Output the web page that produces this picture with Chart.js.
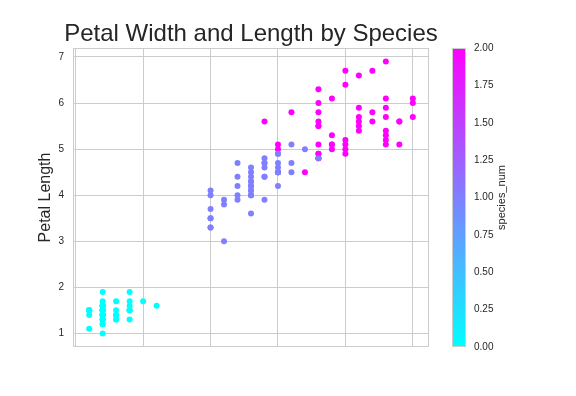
<!DOCTYPE html>
<html>
<head>
<meta charset="utf-8">
<script src="https://cdn.jsdelivr.net/npm/chart.js"></script>
<style>
  body { margin: 0; background: #fff; }
  #wrap { width: 576px; height: 396px; }
</style>
</head>
<body>
<div id="wrap"><canvas id="chart" width="576" height="396"></canvas></div>
<script>
// iris petal measurements, grouped by species
const setosaWidth = [0.2,0.2,0.2,0.2,0.2,0.4,0.3,0.2,0.2,0.1,0.2,0.2,0.1,0.1,0.2,0.4,0.4,0.3,0.3,0.3,0.2,0.4,0.2,0.5,0.2,0.2,0.4,0.2,0.2,0.2,0.2,0.4,0.1,0.2,0.1,0.2,0.2,0.1,0.2,0.2,0.3,0.3,0.2,0.6,0.4,0.3,0.2,0.2,0.2,0.2];
const setosaLength = [1.4,1.4,1.3,1.5,1.4,1.7,1.4,1.5,1.4,1.5,1.5,1.6,1.4,1.1,1.2,1.5,1.3,1.4,1.7,1.5,1.7,1.5,1.0,1.7,1.9,1.6,1.6,1.5,1.4,1.6,1.6,1.5,1.5,1.4,1.5,1.2,1.3,1.5,1.3,1.5,1.3,1.3,1.3,1.6,1.9,1.4,1.6,1.4,1.5,1.4];
const versicolorWidth = [1.4,1.5,1.5,1.3,1.5,1.3,1.6,1.0,1.3,1.4,1.0,1.5,1.0,1.4,1.3,1.4,1.5,1.0,1.5,1.1,1.8,1.3,1.5,1.2,1.3,1.4,1.4,1.7,1.5,1.0,1.1,1.0,1.2,1.6,1.5,1.6,1.5,1.3,1.3,1.3,1.2,1.4,1.2,1.0,1.3,1.2,1.3,1.3,1.1,1.3];
const versicolorLength = [4.7,4.5,4.9,4.0,4.6,4.5,4.7,3.3,4.6,3.9,3.5,4.2,4.0,4.7,3.6,4.4,4.5,4.1,4.5,3.9,4.8,4.0,4.9,4.7,4.3,4.4,4.8,5.0,4.5,3.5,3.8,3.7,3.9,5.1,4.5,4.5,4.7,4.4,4.1,4.0,4.4,4.6,4.0,3.3,4.2,4.2,4.2,4.3,3.0,4.1];
const virginicaWidth = [2.5,1.9,2.1,1.8,2.2,2.1,1.7,1.8,1.8,2.5,2.0,1.9,2.1,2.0,2.4,2.3,1.8,2.2,2.3,1.5,2.3,2.0,2.0,1.8,2.1,1.8,1.8,1.8,2.1,1.6,1.9,2.0,2.2,1.5,1.4,2.3,2.4,1.8,1.8,2.1,2.4,2.3,1.9,2.3,2.5,2.3,1.9,2.0,2.3,1.8];
const virginicaLength = [6.0,5.1,5.9,5.6,5.8,6.6,4.5,6.3,5.8,6.1,5.1,5.3,5.5,5.0,5.1,5.3,5.5,6.7,6.9,5.0,5.7,4.9,6.7,4.9,5.7,6.0,4.8,4.9,5.6,5.8,6.1,6.4,5.6,5.1,5.6,6.1,5.6,5.5,4.8,5.4,5.6,5.1,5.1,5.9,5.7,5.2,5.0,5.2,5.4,5.1];
const speciesNum = [0, 1, 2];

const xTicks = [0, 0.5, 1.0, 1.5, 2.0, 2.5];
const yTicks = [1, 2, 3, 4, 5, 6, 7];
const cbTicks = [0, 0.25, 0.5, 0.75, 1.0, 1.25, 1.5, 1.75, 2.0];

// matplotlib 'cool' colormap, value range 0..2
function cool(v) {
    const t = v / 2;
    return 'rgb(' + Math.round(255 * t) + ',' + Math.round(255 * (1 - t)) + ',255)';
}

function pairs(xs, ys) {
    return xs.map((x, i) => ({ x: x, y: ys[i] }));
}

const groups = [
    [setosaWidth, setosaLength],
    [versicolorWidth, versicolorLength],
    [virginicaWidth, virginicaLength]
];

const gridColor = '#cccccc';
const textColor = '#262626';
const fontFamily = '"Liberation Sans", Arial, sans-serif';

const colorbarPlugin = {
    id: 'colorbar',
    afterDraw(chart) {
        const ctx = chart.ctx;
        const a = chart.chartArea;
        const cb = chart.scales.cb;
        ctx.save();
        // title, centred over the plot
        ctx.fillStyle = textColor;
        ctx.font = '24px ' + fontFamily;
        ctx.textAlign = 'center';
        ctx.textBaseline = 'alphabetic';
        ctx.fillText('Petal Width and Length by Species', (a.left + a.right) / 2, 41);
        // frame
        ctx.strokeStyle = gridColor;
        ctx.lineWidth = 1;
        ctx.strokeRect(a.left + 0.5, a.top + 0.5, a.right - a.left - 1, a.bottom - a.top - 1);
        // gradient bar
        const top = cb.getPixelForValue(2);
        const bot = cb.getPixelForValue(0);
        const x0 = a.right + 23;
        const w = 14;
        const g = ctx.createLinearGradient(0, bot, 0, top);
        g.addColorStop(0, cool(0));
        g.addColorStop(1, cool(2));
        ctx.fillStyle = g;
        ctx.fillRect(x0, top, w, bot - top);
        ctx.strokeRect(x0 + 0.5, top + 0.5, w - 1, bot - top - 1);
        // colorbar label
        ctx.translate(502, (top + bot) / 2);
        ctx.rotate(-Math.PI / 2);
        ctx.fillStyle = textColor;
        ctx.font = '11px ' + fontFamily;
        ctx.textBaseline = 'middle';
        ctx.fillText('species_num', 0, 0);
        ctx.restore();
    }
};

new Chart(document.getElementById('chart'), {
    type: 'scatter',
    data: {
        datasets: groups.map((g, i) => ({
            label: 'species ' + speciesNum[i],
            data: pairs(g[0], g[1]),
            backgroundColor: cool(speciesNum[i]),
            borderWidth: 0,
            pointRadius: 3,
            pointHoverRadius: 3
        }))
    },
    options: {
        responsive: false,
        animation: false,
        layout: { padding: { left: 32, right: 66, top: 48, bottom: 49 } },
        plugins: {
            legend: { display: false },
            tooltip: { enabled: false },
            title: { display: false }
        },
        scales: {
            x: {
                type: 'linear',
                min: -0.02,
                max: 2.62,
                afterBuildTicks: s => { s.ticks = xTicks.map(v => ({ value: v })); },
                afterFit: s => { s.height = 0; },
                ticks: { display: false },
                grid: { color: gridColor, drawTicks: false },
                border: { display: false }
            },
            y: {
                type: 'linear',
                min: 0.705,
                max: 7.195,
                afterBuildTicks: s => { s.ticks = yTicks.map(v => ({ value: v })); },
                afterFit: s => { s.width = 41; },
                ticks: {
                    color: textColor,
                    padding: 9,
                    font: { family: fontFamily, size: 10 }
                },
                grid: { color: gridColor, drawTicks: false },
                border: { display: false },
                title: {
                    display: true,
                    text: 'Petal Length',
                    color: textColor,
                    font: { family: fontFamily, size: 16 }
                }
            },
            cb: {
                type: 'linear',
                position: 'right',
                min: 0,
                max: 2,
                afterBuildTicks: s => { s.ticks = cbTicks.map(v => ({ value: v })); },
                afterFit: s => { s.width = 81; },
                ticks: {
                    color: textColor,
                    padding: 3,
                    font: { family: fontFamily, size: 10 },
                    callback: v => v.toFixed(2)
                },
                // invisible tick marks push the labels past the colour bar
                grid: { color: 'rgba(0,0,0,0)', drawOnChartArea: false, drawTicks: true, tickLength: 42 },
                border: { display: false }
            }
        }
    },
    plugins: [colorbarPlugin]
});
</script>
</body>
</html>
